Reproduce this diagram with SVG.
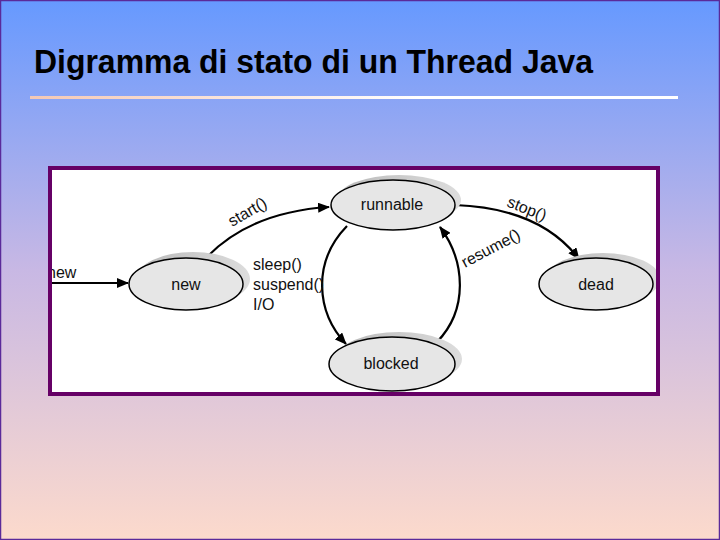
<svg xmlns="http://www.w3.org/2000/svg" width="720" height="540" viewBox="0 0 720 540">
<defs>
<linearGradient id="bg" x1="0" y1="0" x2="0" y2="1">
<stop offset="0" stop-color="#6699ff"/>
<stop offset="0.5" stop-color="#c8b8e4"/>
<stop offset="1" stop-color="#fcdacc"/>
</linearGradient>
<linearGradient id="ul" x1="0" y1="0" x2="1" y2="0">
<stop offset="0" stop-color="#f4c8b4"/>
<stop offset="0.6" stop-color="#ffffff"/>
<stop offset="1" stop-color="#ffffff"/>
</linearGradient>
<linearGradient id="sh" x1="0" y1="0" x2="1" y2="0">
<stop offset="0" stop-color="#b8b8b8"/>
<stop offset="1" stop-color="#dddddd"/>
</linearGradient>
<clipPath id="boxclip"><rect x="52" y="170" width="604" height="222"/></clipPath>
<marker id="ah" viewBox="0 0 12 10" refX="11" refY="5" markerWidth="12" markerHeight="10" markerUnits="userSpaceOnUse" orient="auto">
<path d="M0,0 L12,5 L0,10 z" fill="#000"/>
</marker>
<style>
.lbl{font-family:"Liberation Sans",Arial,sans-serif;font-size:16px;fill:#111}
.node{fill:#e6e6e6;stroke:#000;stroke-width:1.5}
.shadow{fill:url(#sh)}
.edge{fill:none;stroke:#000;stroke-width:2.2;marker-end:url(#ah)}
</style>
</defs>
<rect x="0" y="0" width="720" height="540" fill="url(#bg)"/>
<rect x="0.5" y="0.5" width="719" height="539" fill="none" stroke="#5a2a9a" stroke-width="1.5"/>
<text x="34" y="73" font-family="'Liberation Sans',Arial,sans-serif" font-size="33" font-weight="bold" fill="#000" textLength="559" lengthAdjust="spacingAndGlyphs">Digramma di stato di un Thread Java</text>
<rect x="30" y="96" width="648" height="3" fill="url(#ul)"/>
<rect x="50" y="168" width="608" height="226" fill="#ffffff" stroke="#660066" stroke-width="4"/>
<g clip-path="url(#boxclip)">
<g id="connectors">
<path class="edge" d="M50,283 L128,283"/>
<text class="lbl" x="47" y="278">new</text>
<path class="edge" d="M206,258 Q250,212 329,207"/>
<path class="edge" d="M455,205 Q540,208 579,259"/>
<path class="edge" d="M347,226 C312,262 316,312 346,344"/>
<path class="edge" d="M437,342 C468,310 466,262 440,227"/>
<text class="lbl" transform="translate(232,227) rotate(-30)">start()</text>
<text class="lbl" transform="translate(506,206) rotate(22)">stop()</text>
<text class="lbl" transform="translate(465,268) rotate(-28)">resume()</text>
<text class="lbl" x="253" y="270">sleep()</text>
<text class="lbl" x="253" y="290">suspend()</text>
<text class="lbl" x="253" y="310">I/O</text>
</g>
<g id="node-new">
<ellipse class="shadow" cx="193" cy="279" rx="57" ry="27"/>
<ellipse class="node" cx="186" cy="284" rx="57" ry="26"/>
<text class="lbl" x="186" y="290" text-anchor="middle">new</text>
</g>
<g id="node-runnable">
<ellipse class="shadow" cx="399" cy="200" rx="62" ry="25"/>
<ellipse class="node" cx="393" cy="205" rx="62" ry="25"/>
<text class="lbl" x="392" y="210" text-anchor="middle">runnable</text>
</g>
<g id="node-dead">
<ellipse class="shadow" cx="603" cy="279" rx="57" ry="26"/>
<ellipse class="node" cx="596" cy="284" rx="57" ry="26"/>
<text class="lbl" x="596" y="290" text-anchor="middle">dead</text>
</g>
<g id="node-blocked">
<ellipse class="shadow" cx="399" cy="359" rx="63" ry="27"/>
<ellipse class="node" cx="392" cy="364" rx="63" ry="27"/>
<text class="lbl" x="391" y="369" text-anchor="middle">blocked</text>
</g>
</g>
</svg>
